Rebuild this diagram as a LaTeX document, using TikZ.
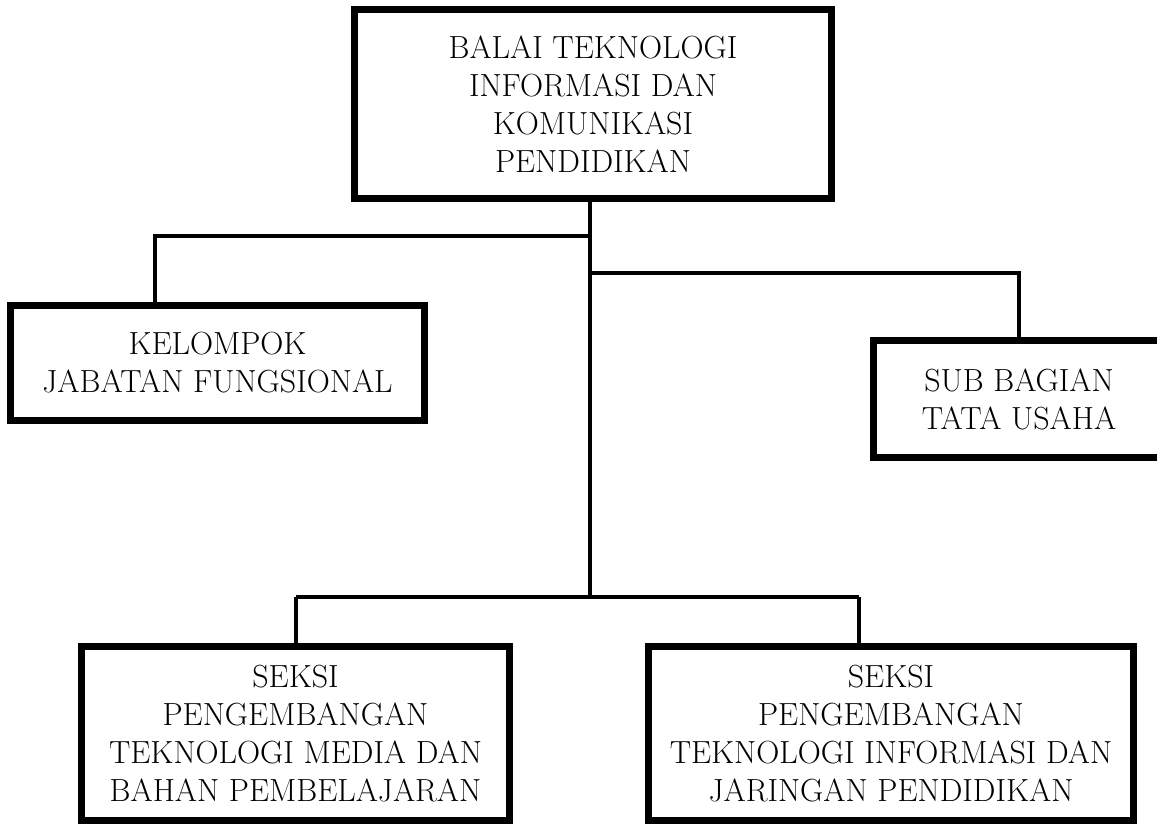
\documentclass[tikz,border=0pt]{standalone}
\usepackage{fontspec}
\begin{document}
\begin{tikzpicture}[x=0.75pt,y=-0.75pt,
  box/.style={draw=black,line width=5.25pt,fill=white,align=center,inner sep=0pt,
    font=\fontsize{24}{28.5}\selectfont},
  conn/.style={draw=black,line width=3.4pt}]
\useasboundingbox (0,0) rectangle (1157,824);
\clip (0,0) rectangle (1157,824);
\fill[white] (0,0) rectangle (1157,824);
\coordinate (tj) at (590,202);
\coordinate (jl) at (590,236);
\coordinate (jr) at (590,273);
\coordinate (jb) at (590,597);
\coordinate (kl) at (155,236);
\coordinate (kr) at (1019,273);
\coordinate (bl) at (296,597);
\coordinate (br) at (859,597);
% boxes
\node[box,minimum width=477*0.75pt,minimum height=189*0.75pt] (top) at (593,104)
  {BALAI TEKNOLOGI\\INFORMASI DAN\\KOMUNIKASI\\PENDIDIKAN};
\node[box,minimum width=414*0.75pt,minimum height=115*0.75pt] (kel) at (217.5,363)
  {KELOMPOK\\JABATAN FUNGSIONAL};
\node[box,minimum width=291*0.75pt,minimum height=117*0.75pt] (sub) at (1019,399)
  {SUB BAGIAN\\TATA USAHA};
\node[box,minimum width=428*0.75pt,minimum height=174*0.75pt] (sml) at (295.5,733.5)
  {SEKSI\\PENGEMBANGAN\\TEKNOLOGI MEDIA DAN\\BAHAN PEMBELAJARAN};
\node[box,minimum width=485*0.75pt,minimum height=174*0.75pt] (stij) at (891,733.5)
  {SEKSI\\PENGEMBANGAN\\TEKNOLOGI INFORMASI DAN\\JARINGAN PENDIDIKAN};
% connector lines
\draw[conn] (top.south -| tj) -- (jb);
\draw[conn] (jl) -- (kl) -- (kel.north -| kl);
\draw[conn] (jr) -- (kr) -- (sub.north -| kr);
\draw[conn] (bl) -- (br);
\draw[conn] (bl) -- (sml.north -| bl);
\draw[conn] (br) -- (stij.north -| br);
\end{tikzpicture}
\end{document}
